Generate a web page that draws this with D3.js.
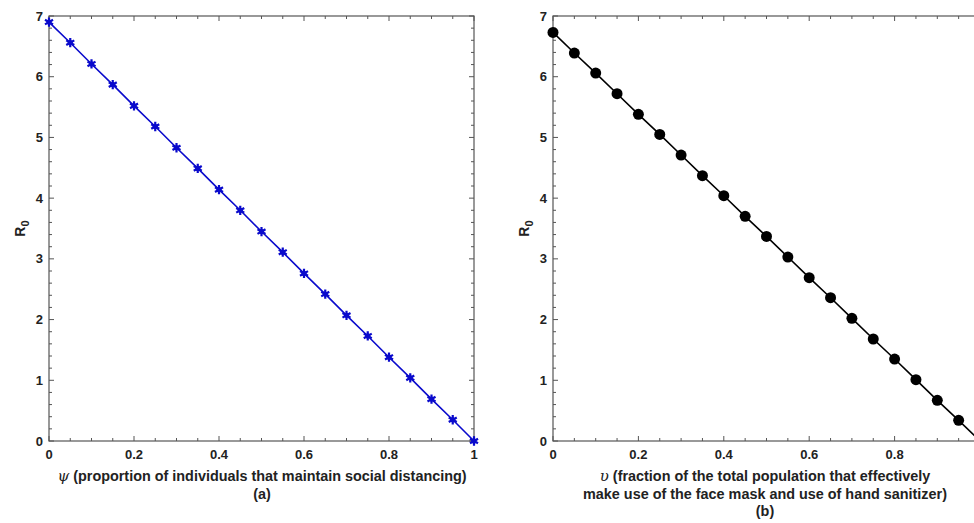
<!DOCTYPE html>
<html><head><meta charset="utf-8">
<script src="https://cdn.jsdelivr.net/npm/d3@7"></script>
<style>
body{margin:0;background:#fff;}
text{font-family:"Liberation Sans",Arial,sans-serif;font-weight:bold;fill:#222;}
</style></head>
<body>
<svg id="c" width="974" height="523"></svg>
<script>
const xValues = [0,0.05,0.1,0.15,0.2,0.25,0.3,0.35,0.4,0.45,0.5,0.55,0.6,0.65,0.7,0.75,0.8,0.85,0.9,0.95,1];
const psiR0 = [6.90,6.56,6.21,5.87,5.52,5.18,4.83,4.49,4.14,3.80,3.45,3.11,2.76,2.42,2.07,1.73,1.38,1.04,0.69,0.35,0];
const upsR0 = [6.73,6.39,6.06,5.72,5.38,5.05,4.71,4.37,4.04,3.70,3.37,3.03,2.69,2.36,2.02,1.68,1.35,1.01,0.67,0.34,0];
const xTicks = [0,0.2,0.4,0.6,0.8,1];
const yTicks = [0,1,2,3,4,5,6,7];

(function(){
const svg = d3.select("#c");
const yTop = 16, yBot = 441;

function panel(opts){
  const x = d3.scaleLinear().domain([0,1]).range([opts.left, opts.left+opts.w]);
  const y = d3.scaleLinear().domain([0,7]).range([yBot, yTop]);
  const g = svg.append("g");
  const clipId = "clip"+opts.id;
  svg.append("clipPath").attr("id",clipId).append("rect")
     .attr("x",opts.left-6).attr("y",yTop-6).attr("width",opts.w+12).attr("height",yBot-yTop+12);
  const ax = "#555";
  g.append("rect").attr("x",opts.left).attr("y",yTop).attr("width",opts.w).attr("height",yBot-yTop)
    .attr("fill","none").attr("stroke",ax).attr("stroke-width",1.2);
  const xMinor = d3.range(0,1.0001,0.05);
  xMinor.forEach(v=>{
    const major = Math.abs(v*5-Math.round(v*5))<1e-6;
    const L = major?5:3;
    g.append("line").attr("x1",x(v)).attr("x2",x(v)).attr("y1",yBot).attr("y2",yBot-L).attr("stroke",ax);
    g.append("line").attr("x1",x(v)).attr("x2",x(v)).attr("y1",yTop).attr("y2",yTop+L).attr("stroke",ax);
  });
  const yMinor = d3.range(0,7.0001,0.2);
  yMinor.forEach(v=>{
    const major = Math.abs(v-Math.round(v))<1e-6;
    const L = major?5:3;
    g.append("line").attr("y1",y(v)).attr("y2",y(v)).attr("x1",opts.left).attr("x2",opts.left+L).attr("stroke",ax);
    g.append("line").attr("y1",y(v)).attr("y2",y(v)).attr("x1",opts.left+opts.w).attr("x2",opts.left+opts.w-L).attr("stroke",ax);
  });
  xTicks.forEach(v=>{
    if (x(v) > 970) return;
    g.append("text").attr("x",x(v)).attr("y",yBot+18).attr("text-anchor","middle")
     .attr("font-size",13).text(String(v));
  });
  yTicks.forEach(v=>{
    g.append("text").attr("x",opts.left-6).attr("y",y(v)+4.5).attr("text-anchor","end")
     .attr("font-size",13).text(String(v));
  });
  const yl = g.append("text").attr("transform",`translate(${opts.left-24},${(yTop+yBot)/2}) rotate(-90)`)
     .attr("text-anchor","middle").attr("font-size",14);
  yl.append("tspan").text("R");
  yl.append("tspan").attr("font-size",11).attr("dy",4).text("0");
  const pts = xValues.map((v,i)=>[v,opts.data[i]]);
  const dg = g.append("g").attr("clip-path",`url(#${clipId})`);
  dg.append("path").datum(pts)
    .attr("d",d3.line().x(d=>x(d[0])).y(d=>y(d[1])))
    .attr("fill","none").attr("stroke",opts.color).attr("stroke-width",1.6);
  pts.forEach(d=>{
    if (opts.marker==="circle"){
      dg.append("circle").attr("cx",x(d[0])).attr("cy",y(d[1])).attr("r",5.5).attr("fill",opts.color);
    } else {
      const s = dg.append("g").attr("transform",`translate(${x(d[0])},${y(d[1])})`);
      s.append("path").attr("d",d3.symbol(d3.symbolAsterisk,60)()).attr("stroke",opts.color).attr("stroke-width",2.2).attr("fill","none");
      s.append("circle").attr("r",2.6).attr("fill",opts.color);
    }
  });
  opts.xlabel.forEach((line,i)=>{
    const t = g.append("text").attr("x",opts.labelX).attr("y",yBot+40+i*17.5).attr("text-anchor","middle").attr("font-size",14.4);
    line.forEach(part=>{
      const ts = t.append("tspan").text(part.t);
      if (part.math){
        ts.attr("font-family","'DejaVu Serif','Liberation Serif',serif").attr("font-style","italic").attr("font-weight","normal").attr("font-size",15);
      }
    });
  });
}

panel({id:"a", left:49, w:425, data:psiR0, color:"#0a0acc", marker:"asterisk", labelX:262,
  xlabel:[[{t:"ψ",math:true},{t:" (proportion of individuals that maintain social distancing)"}],[{t:"(a)"}]]});
panel({id:"b", left:553, w:427, data:upsR0, color:"#000", marker:"circle", labelX:765,
  xlabel:[[{t:"υ",math:true},{t:" (fraction of the total population that effectively"}],
          [{t:"make use of the face mask and use of hand sanitizer)"}],[{t:"(b)"}]]});
})();
</script>
</body></html>
